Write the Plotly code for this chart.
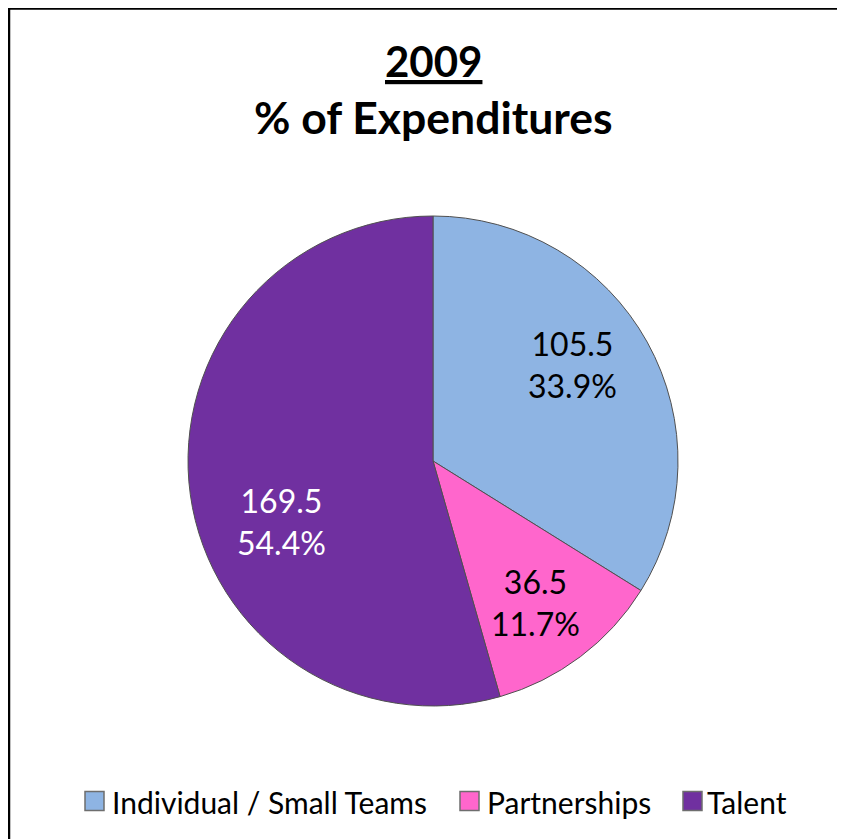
import math
import plotly.graph_objects as go

labels = ["Individual / Small Teams", "Partnerships", "Talent"]
values = [105.5, 36.5, 169.5]
colors = ["#8EB4E3", "#FF66CC", "#7030A0"]
text_colors = ["#000000", "#000000", "#FFFFFF"]

W, H = 845, 839
FONT = "Lato"

# pie geometry (figure pixels)
CX, CY, R = 425, 453, 245
# label placement style (radius fraction, angle nudge in degrees)
label_r = [0.69, 0.715, 0.665]
label_nudge = [-5.6, 1.1, -14.0]

fig = go.Figure(go.Pie(
    labels=labels, values=values, sort=False, direction="clockwise", rotation=0,
    marker=dict(colors=colors, line=dict(color="#505050", width=1)),
    textinfo="none",
    domain=dict(x=[(CX - R) / W, (CX + R) / W], y=[1 - (CY + R) / H, 1 - (CY - R) / H]),
    hoverinfo="label+value+percent",
    showlegend=False,
))

total = sum(values)
annotations = []
cum = 0.0
for v, tc, rf, nd in zip(values, text_colors, label_r, label_nudge):
    mid = (cum + v / 2) / total * 360 + nd
    cum += v
    px = CX + rf * R * math.sin(math.radians(mid))
    py = CY - rf * R * math.cos(math.radians(mid))
    annotations.append(dict(
        text=f"{v}<br>{v / total * 100:.1f}%", x=px / W, y=1 - py / H,
        xref="paper", yref="paper", showarrow=False, xanchor="center", yanchor="middle",
        font=dict(family=FONT, size=32, color=tc)))

annotations += [
    dict(text="<b><u>2009</u></b>", x=425 / W, y=1 - 53 / H, xref="paper", yref="paper",
         showarrow=False, font=dict(family=FONT, size=42, color="black"), yanchor="middle"),
    dict(text="<b>% of Expenditures</b>", x=425 / W, y=1 - 108 / H, xref="paper", yref="paper",
         showarrow=False, font=dict(family=FONT, size=44.5, color="black"), yanchor="middle"),
]

# manual legend (layout positions in figure pixels)
legend_sq_x = [77, 452, 675]
legend_text_x = [102, 477, 697]
legend_y = 793
sq = 19
shapes = [dict(type="rect", xref="paper", yref="paper", x0=1 / W, x1=1.01, y0=-0.01, y1=1 - 0.5 / H,
               line=dict(color="black", width=2.5), fillcolor="rgba(0,0,0,0)")]
for lab, col, sx, tx in zip(labels, colors, legend_sq_x, legend_text_x):
    shapes.append(dict(type="rect", xref="paper", yref="paper",
                       x0=sx / W, x1=(sx + sq) / W,
                       y0=1 - (legend_y + sq / 2) / H, y1=1 - (legend_y - sq / 2) / H,
                       fillcolor=col, line=dict(color="#6E6E6E", width=1.5)))
    annotations.append(dict(text=lab, x=tx / W, y=1 - (legend_y + 1) / H,
                            xref="paper", yref="paper", showarrow=False,
                            xanchor="left", yanchor="middle",
                            font=dict(family=FONT, size=30, color="black")))

fig.update_layout(
    width=W, height=H, margin=dict(l=0, r=0, t=0, b=0),
    paper_bgcolor="white", plot_bgcolor="white",
    font=dict(family=FONT, color="black"),
    showlegend=False,
    annotations=annotations,
    shapes=shapes,
)

fig.write_html("out.html")
